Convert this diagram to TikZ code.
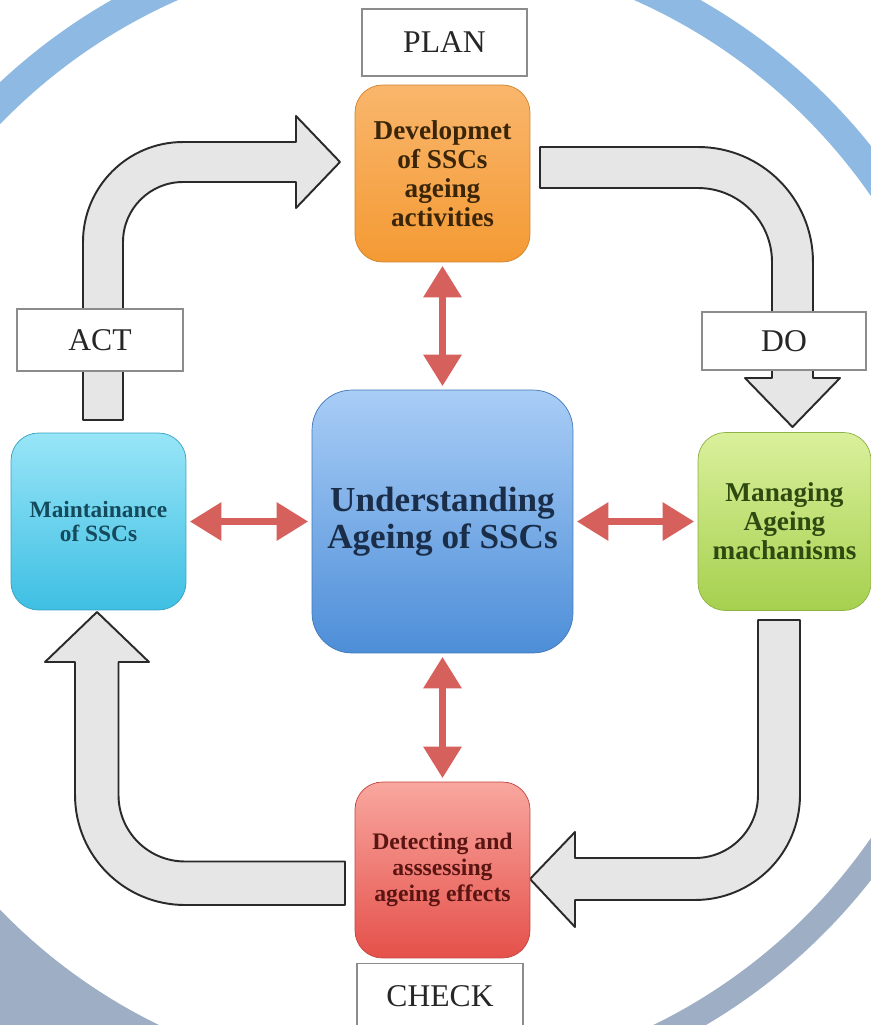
\documentclass[tikz,border=0pt]{standalone}
\usepackage{fontspec}
\setmainfont{Liberation Serif}
\usetikzlibrary{arrows.meta}
\definecolor{ringA}{HTML}{8DB9E2}
\definecolor{ringB}{HTML}{9EAFC5}
\definecolor{arrfill}{HTML}{E6E6E6}
\definecolor{arrline}{HTML}{2A2A2A}
\definecolor{redarrc}{HTML}{D6605B}
\definecolor{orT}{HTML}{F9B66C}
\definecolor{orB}{HTML}{F49A34}
\definecolor{blT}{HTML}{A9CDF6}
\definecolor{blB}{HTML}{4D8ED8}
\definecolor{cyT}{HTML}{98E5F7}
\definecolor{cyB}{HTML}{3EBFE3}
\definecolor{grT}{HTML}{DAF09C}
\definecolor{grB}{HTML}{A6D04E}
\definecolor{rdT}{HTML}{F8A79F}
\definecolor{rdB}{HTML}{E5504A}
\definecolor{devText}{HTML}{3A2508}
\definecolor{undText}{HTML}{1A2E4A}
\definecolor{mntText}{HTML}{154A5C}
\definecolor{mngText}{HTML}{2E4A10}
\definecolor{detText}{HTML}{5A1512}
\begin{document}
\begin{tikzpicture}[x=0.02cm,y=-0.02cm,
  box/.style={rectangle, rounded corners=0.55cm, align=center, draw=#1!85!black, line width=0.4pt},
  lbl/.style={rectangle, draw=black!45, fill=white, line width=0.6pt, text=black!85,
    font=\fontsize{18}{20}\selectfont},
  garrow/.style={draw=arrline, fill=arrfill, line width=1.1pt, line join=round},
  redarr/.style={draw=redarrc, line width=4pt,
    {Triangle[width=21pt,length=18pt]}-{Triangle[width=21pt,length=18pt]},
    shorten <=2pt, shorten >=2pt}
]
\useasboundingbox (0,0) rectangle (871,1025);
\fill[white] (0,0) rectangle (871,1025);
% background ring
\begin{scope}
  \clip (0,0) rectangle (871,517);
  \draw[ringA, line width=0.6cm] (406,517) circle (11.6cm);
\end{scope}
\begin{scope}
  \clip (0,517) rectangle (871,1025);
  \draw[ringB, line width=0.5cm] (406,517) circle (11.55cm);
\end{scope}
\fill[ringB] (0,1025) -- (0,910) arc[start angle=224.07, end angle=244.06, radius=11.3cm] -- cycle;

% gray block arrows
\draw[garrow] (83,420) -- (83,242) arc[start angle=180, end angle=90, radius=2cm]
  -- (296,142) -- (296,116) -- (340,162) -- (296,208) -- (296,182) -- (183,182)
  arc[start angle=90, end angle=180, radius=1.2cm] -- (123,420) -- cycle;
\draw[garrow] (540,147) -- (698,147) arc[start angle=90, end angle=0, radius=2.3cm]
  -- (813,378) -- (840,378) -- (792.5,427) -- (745,378) -- (772,378) -- (772,262)
  arc[start angle=0, end angle=90, radius=1.48cm] -- (540,188) -- cycle;
\draw[garrow] (758,620) -- (800,620) -- (800,795) arc[start angle=0, end angle=-90, radius=2.1cm]
  -- (575,900) -- (575,927) -- (530,879) -- (575,832) -- (575,858) -- (695,858)
  arc[start angle=-90, end angle=0, radius=1.26cm] -- cycle;
\draw[garrow] (345,861.5) -- (345,905) -- (185,905) arc[start angle=270, end angle=180, radius=2.2cm]
  -- (75,662) -- (45,662) -- (97,612) -- (149,662) -- (118.5,662) -- (118.5,795)
  arc[start angle=180, end angle=270, radius=1.33cm] -- cycle;

% main boxes
\node[box=orB, top color=orT, bottom color=orB, minimum width=3.5cm, minimum height=3.54cm,
  text=devText, font=\fontsize{15.5}{16.6}\selectfont\bfseries]
  (dev) at (442.5,173.5) {Developmet\\of SSCs\\ageing\\activities};
\node[box=blB, rounded corners=0.8cm, top color=blT, bottom color=blB, minimum width=5.22cm, minimum height=5.26cm,
  text=undText, font=\fontsize{20}{21}\selectfont\bfseries]
  (und) at (442.5,521.5) {Understanding\\Ageing of SSCs};
\node[box=cyB, top color=cyT, bottom color=cyB, minimum width=3.5cm, minimum height=3.54cm,
  text=mntText, font=\fontsize{13.3}{14}\selectfont\bfseries]
  (mnt) at (98.5,521.5) {Maintainance\\of SSCs};
\node[box=grB, top color=grT, bottom color=grB, minimum width=3.46cm, minimum height=3.56cm,
  text=mngText, font=\fontsize{15.5}{16.5}\selectfont\bfseries]
  (mng) at (784.5,521.5) {Managing\\Ageing\\machanisms};
\node[box=rdB, top color=rdT, bottom color=rdB, minimum width=3.5cm, minimum height=3.52cm,
  text=detText, font=\fontsize{13.5}{15}\selectfont\bfseries]
  (det) at (442.5,870) {Detecting and\\asssessing\\ageing effects};

% label boxes
\node[lbl, minimum width=3.3cm, minimum height=1.34cm] (plan) at (444.5,42.5) {PLAN};
\node[lbl, minimum width=3.32cm, minimum height=1.24cm] (act) at (100,340) {ACT};
\node[lbl, minimum width=3.28cm, minimum height=1.16cm] (dolbl) at (784,341) {DO};
\node[lbl, minimum width=3.32cm, minimum height=1.3cm] (check) at (440,996) {CHECK};

% red double arrows
\draw[redarr] (dev.south) -- (und.north);
\draw[redarr] (und.south) -- (det.north);
\draw[redarr] (mnt.east) -- (und.west);
\draw[redarr] (und.east) -- (mng.west);
\end{tikzpicture}
\end{document}
